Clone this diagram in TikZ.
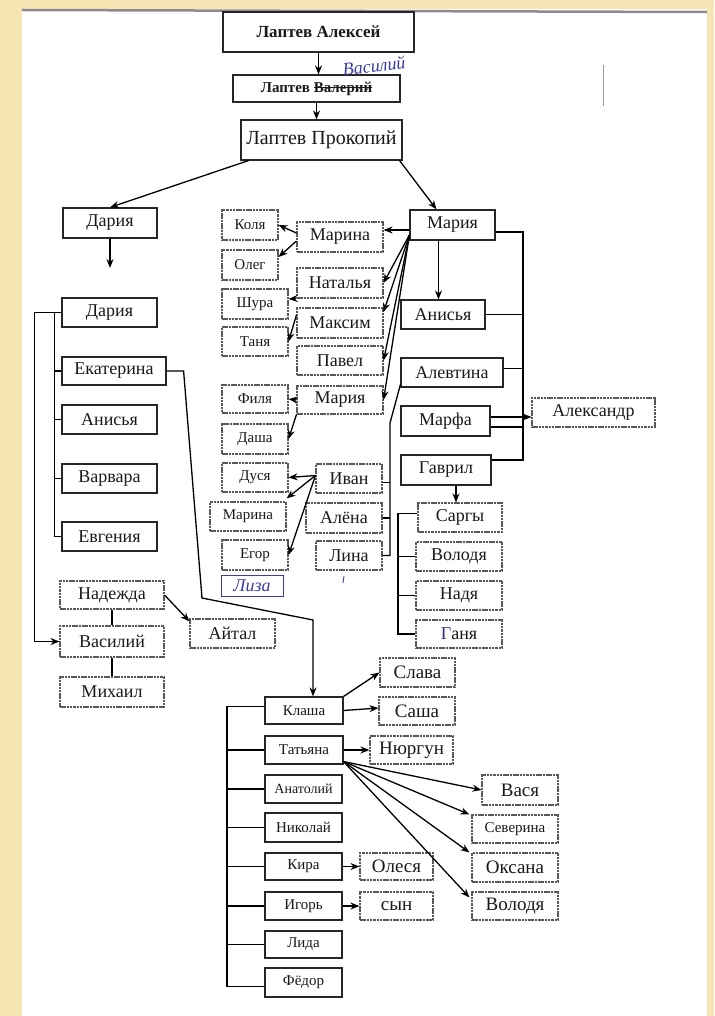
\documentclass[tikz,border=0pt]{standalone}
\usepackage{fontspec}
\setmainfont{Liberation Serif}
\usetikzlibrary{arrows.meta}
\definecolor{pageyellow}{RGB}{246,230,180}
\definecolor{ink}{RGB}{60,60,165}
\newcommand\fsz[1]{\fontsize{#1}{#1}\selectfont}
\newcommand\strk[1]{{\setbox0\hbox{#1}\rlap{\rule[0.3em]{\wd0}{1pt}}\box0}}
\tikzset{
  box/.style={draw=black!85, line width=1.2pt, inner sep=0pt, text=black!90},
  dbox/.style={box, draw=black!65, line width=1.1pt, dash pattern=on 2.5pt off 0.8pt},
  arr/.style={line width=1.3pt, -{Stealth[length=9pt,width=7pt]}},
  ln/.style={line width=1.3pt},
  hand/.style={text=ink, font=\itshape\fsz{18}},
}
\newcommand\bx[7][]{\node[box,#1,minimum width={(#4-#2)*1pt},minimum height={(#5-#3)*1pt}] (#6) at ({(#2+#4)/2},{(#3+#5)/2}) {#7};}
\begin{document}
\begin{tikzpicture}[x=1pt,y=-1pt]
\useasboundingbox (0,0) rectangle (714,1016);
\fill[pageyellow] (0,0) rectangle (714,1016);
\fill[white] (22,9) rectangle (707,1016);
\draw[black!45, line width=2.5pt] (22,10) -- (707,12);
\draw[black!40, line width=0.9pt] (603,65) -- (603,106);

% top line
\bx[font=\bfseries\fsz{17}]{223}{12}{414}{52}{alek}{Лаптев Алексей}
\bx[font=\bfseries\fsz{15}]{233}{75}{400}{102}{val}{Лаптев \strk{Валерий}}
\bx[font=\fsz{20}]{241}{120}{402}{160}{prok}{Лаптев Прокопий}
\node[hand, rotate=6] (vasil) at (374,66) {Василий};

% left column
\bx[font=\fsz{18}]{63}{208}{157}{238}{dar1}{Дария}
\bx[font=\fsz{18}]{62}{298}{157}{327}{dar2}{Дария}
\bx[font=\fsz{18}]{62}{357}{166}{385}{ekat}{Екатерина}
\bx[font=\fsz{18}]{62}{405}{157}{434}{anis}{Анисья}
\bx[font=\fsz{18}]{62}{464}{157}{493}{varv}{Варвара}
\bx[font=\fsz{18}]{62}{522}{157}{551}{evg}{Евгения}
\bx[dbox,font=\fsz{18}]{60}{581}{164}{609}{nad}{Надежда}
\bx[dbox,font=\fsz{18}]{60}{626}{164}{657}{vas}{Василий}
\bx[dbox,font=\fsz{18}]{60}{677}{164}{707}{mih}{Михаил}
\bx[dbox,font=\fsz{18}]{190}{619}{275}{648}{ait}{Айтал}

% middle small
\bx[dbox,font=\fsz{15}]{222}{210}{278}{240}{kol}{Коля}
\bx[dbox,font=\fsz{15}]{222}{250}{278}{280}{oleg}{Олег}
\bx[dbox,font=\fsz{15}]{222}{289}{288}{319}{shura}{Шура}
\bx[dbox,font=\fsz{15}]{222}{327}{288}{356}{tanya}{Таня}
\bx[dbox,font=\fsz{15}]{222}{385}{288}{413}{filya}{Филя}
\bx[dbox,font=\fsz{15}]{222}{424}{288}{454}{dasha}{Даша}
\bx[dbox,font=\fsz{15}]{222}{463}{288}{492}{dusya}{Дуся}
\bx[dbox,font=\fsz{15}]{210}{502}{286}{531}{marina2}{Марина}
\bx[dbox,font=\fsz{15}]{222}{540}{288}{570}{egor}{Егор}
\node[hand, font=\itshape\fsz{18}, draw=ink, line width=0.7pt, inner sep=2pt, minimum width=62pt, minimum height=21pt] (liza) at (252,586) {Лиза};

% middle
\bx[dbox,font=\fsz{18}]{297}{222}{383}{252}{marina}{Марина}
\bx[dbox,font=\fsz{18}]{297}{268}{383}{298}{nat}{Наталья}
\bx[dbox,font=\fsz{18}]{297}{308}{383}{338}{maks}{Максим}
\bx[dbox,font=\fsz{18}]{297}{346}{383}{375}{pav}{Павел}
\bx[dbox,font=\fsz{18}]{297}{386}{383}{414}{mar2}{Мария}
\bx[dbox,font=\fsz{18}]{316}{464}{382}{493}{ivan}{Иван}
\bx[dbox,font=\fsz{18}]{306}{503}{382}{533}{alena}{Алёна}
\bx[dbox,font=\fsz{18}]{316}{541}{382}{570}{lina}{Лина}
\draw[ink, line width=0.9pt] (344,576) -- (343,583);

% right
\bx[font=\fsz{18}]{410}{210}{495}{240}{mar}{Мария}
\bx[font=\fsz{18}]{401}{300}{485}{329}{anis2}{Анисья}
\bx[font=\fsz{18}]{401}{358}{503}{387}{alev}{Алевтина}
\bx[font=\fsz{18}]{401}{406}{490}{436}{marfa}{Марфа}
\bx[font=\fsz{18}]{401}{455}{491}{485}{gav}{Гаврил}
\bx[dbox,font=\fsz{18}]{532}{398}{655}{427}{alex}{Александр}
\bx[dbox,font=\fsz{18}]{418}{503}{502}{532}{sargy}{Саргы}
\bx[dbox,font=\fsz{18}]{416}{542}{502}{571}{vol}{Володя}
\bx[dbox,font=\fsz{18}]{416}{581}{502}{610}{nadya}{Надя}
\bx[dbox,font=\fsz{18}]{416}{620}{502}{648}{ganya}{{\color{ink!80!black}Г}аня}

% bottom
\bx[font=\fsz{15}]{265}{697}{343}{724}{klasha}{Клаша}
\bx[font=\fsz{15}]{265}{736}{343}{764}{tat}{Татьяна}
\bx[font=\fsz{14}]{265}{775}{342}{803}{anat}{Анатолий}
\bx[font=\fsz{15}]{265}{813}{342}{842}{nik}{Николай}
\bx[font=\fsz{15}]{265}{853}{342}{880}{kira}{Кира}
\bx[font=\fsz{15}]{265}{892}{342}{920}{igor}{Игорь}
\bx[font=\fsz{15}]{265}{931}{342}{958}{lida}{Лида}
\bx[font=\fsz{15}]{265}{968}{342}{997}{fedor}{Фёдор}
\bx[dbox,font=\fsz{19}]{380}{658}{455}{687}{slava}{Слава}
\bx[dbox,font=\fsz{19}]{379}{697}{455}{725}{sasha}{Саша}
\bx[dbox,font=\fsz{19}]{370}{736}{453}{764}{nyur}{Нюргун}
\bx[dbox,font=\fsz{19}]{482}{775}{558}{805}{vasya}{Вася}
\bx[dbox,font=\fsz{15}]{472}{815}{558}{843}{sev}{Северина}
\bx[dbox,font=\fsz{19}]{472}{853}{558}{882}{oks}{Оксана}
\bx[dbox,font=\fsz{19}]{472}{892}{558}{920}{vol2}{Володя}
\bx[dbox,font=\fsz{19}]{360}{853}{433}{880}{olesya}{Олеся}
\bx[dbox,font=\fsz{19}]{360}{892}{433}{920}{syn}{сын}

% ---------- connectors ----------
\draw[arr] (alek.south) -- (alek.south |- val.north);
\draw[arr] (val.south) -- (val.south |- prok.north);
\draw[arr] ([xshift=8pt]prok.south west) -- (dar1.north);
\draw[arr] ([xshift=-3pt]prok.south east) -- ([xshift=-16pt]mar.north);
\coordinate (d1end) at (110,268);
\draw[arr] (dar1.south) -- (dar1.south |- d1end);

% left brackets
\draw[ln] (dar2.west) -| ([xshift=-7pt]evg.west) -- (evg.west);
\foreach \n in {ekat,anis,varv} \draw[ln] (\n.west) -- ++(-7,0);
\draw[arr] (dar2.west) -- ++(-27,0) |- (vas.west);
\draw[ln] (nad.south) -- (vas.north);
\draw[ln] (vas.south) -- (mih.north);
\draw[arr] (nad.east) -- ([yshift=-3pt]ait.north west);
\coordinate (e1) at (202,598);
\coordinate (e2) at (313,620);
\draw[arr] (ekat.east) -- ++(17,0) -- (e1) -- (e2) -- (e2 |- klasha.north);

% Maria (right) to her children
\draw[arr] ([yshift=-5pt]mar.west) -- ([yshift=-5pt]mar.west -| marina.east);
\coordinate (mfan) at ([yshift=-10pt]mar.west);
\draw[arr] (mfan) -- (nat.east);
\draw[arr] (mfan) -- ([yshift=11pt]maks.east);
\draw[arr] (mfan) -- (pav.east);
\draw[arr] (mfan) -- (mar2.east);
\draw[arr] ([xshift=-14pt]mar.south) -- ([xshift=-14pt]mar.south |- anis2.north);

% grandchildren in middle
\draw[arr] ([yshift=4pt]marina.west) -- (kol.east);
\draw[arr] ([yshift=-4pt]marina.west) -- ([yshift=8pt]oleg.east);
\draw[arr] (nat.south west) -- ([yshift=5pt]shura.east);
\draw[arr] ([yshift=8pt]maks.west) -- (tanya.east);
\draw[arr] (mar2.west) -- (filya.east);
\draw[arr] (mar2.south west) -- (dasha.east);
\draw[arr] ([yshift=3pt]ivan.west) -- (dusya.east);
\draw[arr] ([yshift=3pt]ivan.west) -- ([yshift=3pt]marina2.north east);
\draw[arr] ([yshift=3pt]ivan.west) -- (egor.east);

% right bracket
\coordinate (rbx) at (523,0);
\draw[ln] ([yshift=-7pt]mar.east) -- ([yshift=-7pt]mar.east -| rbx) -- ([yshift=10pt]gav.east -| rbx) -- ([yshift=10pt]gav.east);
\draw[ln] (anis2.east) -- (anis2.east -| rbx);
\draw[ln] ([yshift=4pt]alev.east) -- ([yshift=4pt]alev.east -| rbx);
\draw[ln] ([yshift=4pt]marfa.east) -- ([yshift=4pt]marfa.east -| rbx);
\draw[ln] ([yshift=-6pt]marfa.east) -- ([yshift=-6pt]marfa.east -| rbx);
\draw[arr] ([yshift=4pt]marfa.east -| rbx) -- ([yshift=4pt]marfa.east -| alex.west);

% Alevtina bracket
\coordinate (lb1) at (390,423);
\draw[ln] ([yshift=3pt]alev.south west) -- (lb1) -- (lb1 |- lina.east) -- (lina.east);
\draw[ln] ([yshift=-4pt]ivan.east) -- ([yshift=-4pt]ivan.east -| lb1);
\draw[ln] (alena.east) -- (alena.east -| lb1);

% Gavril
\draw[arr] ([xshift=10pt]gav.south) -- ([xshift=10pt]gav.south |- sargy.north);
\coordinate (sbx) at (398,0);
\draw[ln] ([yshift=4pt]sargy.west) -- ([yshift=4pt]sargy.west -| sbx) -- (ganya.west -| sbx) -- (ganya.west);
\draw[ln] (vol.west) -- (vol.west -| sbx);
\draw[ln] (nadya.west) -- (nadya.west -| sbx);

% bottom bracket
\coordinate (bbx) at (227,0);
\draw[ln] ([yshift=4pt]klasha.west) -- ([yshift=4pt]klasha.west -| bbx) -- ([yshift=-4pt]fedor.west -| bbx) -- ([yshift=-4pt]fedor.west);
\foreach \n in {tat,anat,nik,kira,igor,lida} \draw[ln] (\n.west) -- (\n.west -| bbx);

\draw[arr] (klasha.north east) -- (slava.west);
\draw[arr] (klasha.east) -- ([yshift=3pt]sasha.west);
\draw[arr] (tat.east) -- (tat.east -| nyur.west);
\coordinate (tfan) at ([yshift=3pt]tat.south east);
\draw[arr] (tfan) -- (vasya.west);
\draw[arr] (tfan) -- ([xshift=-2pt]sev.north west);
\draw[arr] (tfan) -- ([xshift=-2pt]oks.north west);
\draw[arr] (tfan) -- ([xshift=-2pt,yshift=-6pt]vol2.north west);
\draw[arr] (kira.east) -- (kira.east -| olesya.west);
\draw[arr] (igor.east) -- (igor.east -| syn.west);
\end{tikzpicture}
\end{document}
